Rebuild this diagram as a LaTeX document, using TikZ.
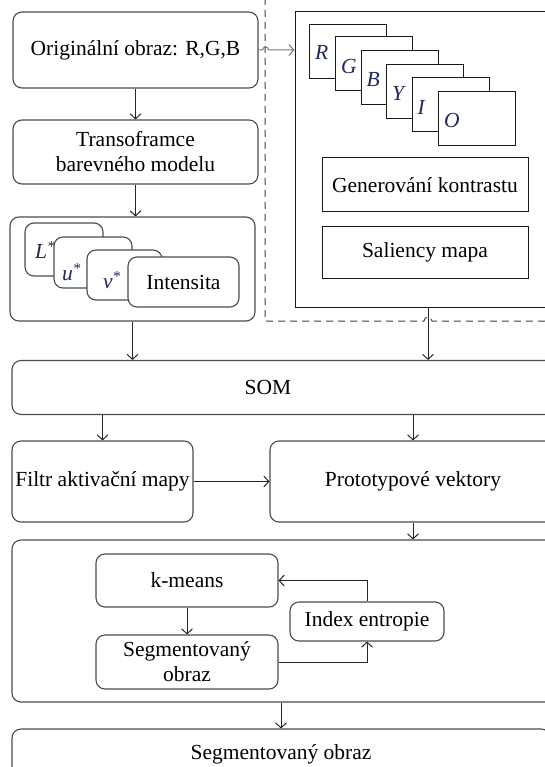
\documentclass[tikz,border=0pt]{standalone}
\usepackage{fontspec}
\setmainfont{Liberation Serif}
\usepackage{tikz}
\usetikzlibrary{positioning,arrows.meta,calc}
\definecolor{labblue}{RGB}{30,40,95}

\begin{document}
\begin{tikzpicture}[
  x=1pt, y=-1pt,
  font=\fontsize{21.5}{25}\selectfont,
  rbox/.style={draw=black!70, rounded corners=9pt, line width=1.1pt, fill=white,
               align=center, inner sep=0pt},
  sbox/.style={draw=black!90, line width=1pt, fill=white, inner sep=0pt, align=center},
  chan/.style={sbox, minimum width=77pt, minimum height=54pt},
  lab/.style={text=labblue, font=\fontsize{21.5}{25}\selectfont\itshape, inner sep=0pt},
  arr/.style={-{Straight Barb[length=5pt,width=11pt]}, line width=1pt, draw=black!85},
  frontier/.style={dash pattern=on 7pt off 5pt, line width=1pt, draw=black!75},
]
\useasboundingbox (0,0) rectangle (545,767);
\clip (0,0) rectangle (545,767);

%====================== LEFT COLUMN ======================
\node[rbox, minimum width=245pt, minimum height=76pt] (orig) at (135.5,50) {Originální obraz: R,G,B};
\node[rbox, minimum width=245pt, minimum height=64pt] (trans) at (135.5,152) {Transoframce\\ barevného modelu};
\node[rbox, minimum width=245pt, minimum height=104pt] (luv) at (132.5,269) {};
\node[rbox, minimum width=78pt, minimum height=53pt] (chL) at (64,249.5) {};
\node[lab, anchor=west] (labL) at (35,250) {L\textsuperscript{*}};
\node[rbox, minimum width=78pt, minimum height=51pt] (chU) at (93,262.5) {};
\node[lab, anchor=west] (labU) at (62,272) {u\textsuperscript{*}};
\node[rbox, minimum width=75pt, minimum height=50pt] (chV) at (124.5,275) {};
\node[lab, anchor=west] (labV) at (103,280) {v\textsuperscript{*}};
\node[rbox, minimum width=111pt, minimum height=50pt] (inten) at (183.5,282) {Intensita};

%====================== SALIENCY FRAME ======================
\node[sbox, minimum width=266pt, minimum height=295pt] (frame) at (428,159.5) {};
\node[chan] (cR) at (348,51.5) {};
\node[lab, anchor=west] (labR) at ([xshift=6pt,yshift=-1pt]cR.west) {R};
\node[chan] (cG) at (374,64) {};
\node[lab, anchor=west] (labG) at ([xshift=6pt,yshift=-2pt]cG.west) {G};
\node[chan] (cB) at (399.5,77.5) {};
\node[lab, anchor=west] (labB) at ([xshift=6pt,yshift=-2pt]cB.west) {B};
\node[chan] (cY) at (425,92) {};
\node[lab, anchor=west] (labY) at ([xshift=6pt,yshift=-1pt]cY.west) {Y};
\node[chan] (cI) at (450.5,105) {};
\node[lab, anchor=west] (labI) at ([xshift=6pt,yshift=-2pt]cI.west) {I};
\node[chan] (cO) at (477,118.5) {};
\node[lab, anchor=west] (labO) at ([xshift=6pt,yshift=-2pt]cO.west) {O};
\node[sbox, minimum width=206pt, minimum height=54pt] (gen) at (425,185) {Generování kontrastu};
\node[sbox, minimum width=206pt, minimum height=52pt] (sal) at (425,252) {Saliency mapa};

\coordinate (dtop) at (265,-2);
\coordinate (dturn) at (265,321);
\draw[frontier] (dtop) -- (dturn) -- (424,321) arc[start angle=180, end angle=360, radius=4] -- (560,321);

%====================== SOM AND MAPS ======================
\node[rbox, minimum width=544pt, minimum height=54pt] (som) at (284,387.5) {};
\node (somt) at (268,387.5) {SOM};
\node[rbox, minimum width=181pt, minimum height=81pt] (filt) at (102.5,481.5) {Filtr aktivační mapy};
\node[rbox, minimum width=286pt, minimum height=81pt] (proto) at (413,481.5) {Prototypové vektory};

%====================== CLUSTERING ======================
\node[rbox, minimum width=544pt, minimum height=162pt] (kframe) at (284,621) {};
\node[rbox, minimum width=182pt, minimum height=53pt] (kmeans) at (187,580.5) {k-means};
\node[rbox, minimum width=182pt, minimum height=54pt] (seg) at (187,662) {Segmentovaný\\ obraz};
\node[rbox, minimum width=154pt, minimum height=39pt] (ent) at (367,621.5) {Index entropie};
\node[rbox, minimum width=538pt, minimum height=60pt] (final) at (281,759) {};
\node (finalt) at (281,754) {Segmentovaný obraz};

%====================== ARROWS ======================
\draw[arr] (orig.south) -- (trans.north);
\draw[arr] (trans.south) -- (trans.south |- luv.north);
\draw[arr, draw=black!55] (orig.east) -- ++(4,0) arc[start angle=180, end angle=360, radius=3] -- (frame.west |- orig.east);
\draw[arr] (luv.south) -- (luv.south |- som.north);
\draw[arr] (frame.south) -- (frame.south |- som.north);
\draw[arr] (filt.north |- som.south) -- (filt.north);
\draw[arr] (proto.north |- som.south) -- (proto.north);
\draw[arr] (filt.east) -- (proto.west);
\draw[arr] (proto.south) -- (proto.south |- kframe.north);
\draw[arr] (kmeans.south) -- (seg.north);
\draw[arr] (seg.east) -| (ent.south);
\draw[arr] (ent.north) |- (kmeans.east);
\draw[arr] (final.north |- kframe.south) -- (final.north);
\end{tikzpicture}
\end{document}
